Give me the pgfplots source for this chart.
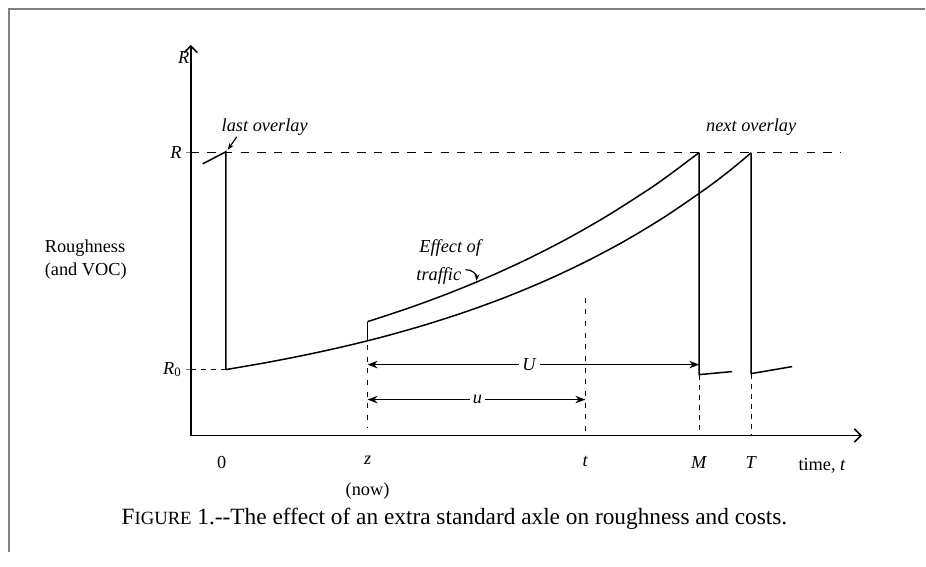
\documentclass[border=0pt]{standalone}
\usepackage{fontspec}
\setmainfont{Liberation Serif}
\usepackage{pgfplots}
\pgfplotsset{compat=1.18}
\usetikzlibrary{arrows.meta}

\begin{document}
\begin{tikzpicture}
\begin{axis}[
    x=0.6pt, y=0.6pt,
    xmin=191, xmax=863, ymin=0, ymax=391,
    axis lines=left,
    axis line style={line width=0.9pt, -{Straight Barb[length=4pt,width=8pt]}},
    clip=false,
    tick align=outside,
    xtick={222,368,586,700,752},
    xticklabels={0,\textit{z},\textit{t},\textit{M},\textit{T}},
    x tick style={draw=none},
    xticklabel style={font=\fontsize{11}{13}\selectfont, yshift=-6pt},
    ytick={66,283},
    yticklabels={\textit{R}\textsubscript{0},\textit{R}},
    y tick style={line width=0.7pt},
    major tick length=3pt,
    yticklabel style={font=\fontsize{11}{13}\selectfont, xshift=1pt},
]
% frame of the scanned page
\draw[gray, line width=1.2pt] (axis cs:926,427) -- (axis cs:9,427) -- (axis cs:9,-117);
\path (axis cs:0,-131) rectangle (axis cs:926,436);

% dashed reference lines
\addplot[black, line width=0.8pt, dash pattern=on 5pt off 5pt] coordinates {(191,283) (842,283)};
\addplot[black, line width=0.8pt, dash pattern=on 3pt off 3pt] coordinates {(191,66) (226,66)};
\addplot[black, line width=0.6pt, dash pattern=on 3pt off 4pt] coordinates {(368,114) (368,8)};
\addplot[black, line width=0.6pt, dash pattern=on 3pt off 4pt] coordinates {(586,138) (586,0)};
\addplot[black, line width=0.6pt, dash pattern=on 3pt off 3pt] coordinates {(700,61) (700,0)};
\addplot[black, line width=0.6pt, dash pattern=on 3pt off 3pt] coordinates {(752,62) (752,0)};

% before the last overlay
\addplot[black, line width=0.9pt] coordinates {(203,272) (226,284) (226,66)};

% roughness path without the extra axle
\addplot[black, line width=0.9pt, smooth] coordinates {
    (226,66.0) (266,72.9) (306,80.7) (346,89.5) (386,99.5) (426,110.9)
    (466,123.8) (506,138.4) (546,155.0) (586,173.8) (626,195.1)
    (666,219.3) (706,246.7) (730,264.8) (752,283.0)
};
\addplot[black, line width=0.9pt] coordinates {(752,283) (752,62) (793,69)};

% roughness path with the extra axle
\addplot[black, line width=0.9pt] coordinates {(368,94.8) (368,114)};
\addplot[black, line width=0.9pt, smooth] coordinates {
    (368,114.0) (408,127.2) (448,141.9) (488,158.3) (528,176.6)
    (568,197.1) (608,220.0) (648,245.5) (668,259.4) (700,283.3)
};
\addplot[black, line width=0.9pt] coordinates {(700,283) (700,61) (733,64)};

% U and u spans
\addplot[black, line width=0.7pt, {Stealth[length=6pt]}-{Stealth[length=6pt]}] coordinates {(368,71) (700,71)};
\addplot[black, line width=0.7pt, {Stealth[length=6pt]}-{Stealth[length=6pt]}] coordinates {(368,36) (586,36)};

\begin{scope}[font=\fontsize{11}{13}\selectfont]
\node[fill=white, inner sep=2pt] at (axis cs:530,71) {\textit{U}};
\node[fill=white, inner sep=2pt] at (axis cs:478,36) {\textit{u}};
\node at (axis cs:184,378) {\textit{R}};
\node[anchor=west] at (axis cs:39,188) {Roughness};
\node[anchor=west] at (axis cs:39,165) {(and VOC)};
\node at (axis cs:265,309) {\textit{last overlay}};
\node at (axis cs:752,309) {\textit{next overlay}};
\node[anchor=west] at (axis cs:414,188) {\textit{Effect of}};
\node[anchor=west] at (axis cs:411,160) {\textit{traffic}};
\node at (axis cs:823,-30) {time, \textit{t}};
\node at (axis cs:368,-56) {(now)};
\end{scope}
\draw[line width=0.7pt, -{Stealth[length=4pt]}] (axis cs:237,299) -- (axis cs:228,286);
\draw[line width=0.7pt, -{Stealth[length=4pt]}] (axis cs:466,166) to[bend left=50] (axis cs:477,155);

\node[font=\fontsize{14}{16}\selectfont] at (axis cs:455,-83)
    {F{\fontsize{11.2}{13}\selectfont IGURE} 1.-{}-The effect of an extra standard axle on roughness and costs.};
\end{axis}
\end{tikzpicture}
\end{document}
